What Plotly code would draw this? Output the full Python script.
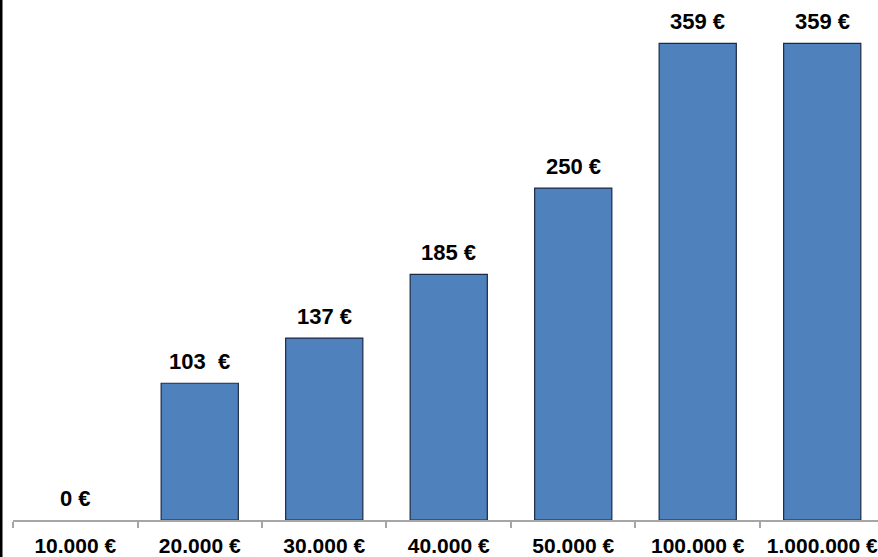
import plotly.graph_objects as go

categories = ["10.000 €", "20.000 €", "30.000 €", "40.000 €", "50.000 €", "100.000 €", "1.000.000 €"]
values = [0, 103, 137, 185, 250, 359, 359]
labels = ["0 €", "103  €", "137 €", "185 €", "250 €", "359 €", "359 €"]

fig = go.Figure()
fig.add_trace(go.Bar(
    x=categories, y=values, width=0.62,
    marker=dict(color="#4F81BD",
                line=dict(color="#1c2a45", width=[0 if v == 0 else 1.2 for v in values])),
    hoverinfo="skip",
))

for c, v, t in zip(categories, values, labels):
    fig.add_annotation(x=c, y=v, text="<b>%s</b>" % t, showarrow=False, yanchor="middle", yshift=22,
                       font=dict(family="Liberation Sans, Arial", size=22, color="#000000"))

fig.add_shape(type="line", xref="paper", yref="paper", x0=-12/865, x1=-12/865, y0=-37/520, y1=1,
              line=dict(color="#000000", width=3))

fig.update_layout(
    width=878, height=557,
    margin=dict(l=13, r=0, t=0, b=37),
    plot_bgcolor="white", paper_bgcolor="white",
    showlegend=False,
    font=dict(family="Liberation Sans, Arial", size=21, color="#000000"),
    xaxis=dict(
        type="category", range=[-0.5, 6.448], tickson="boundaries",
        showline=True, linecolor="#a6a6a6", linewidth=1.5,
        ticks="outside", ticklen=6, tickcolor="#a6a6a6", tickwidth=1.5,
        tickfont=dict(family="Liberation Sans, Arial", size=21, color="#000000"),
        ticklabelstandoff=6,
        tickvals=categories, ticktext=["<b>%s</b>" % c for c in categories],
        showgrid=False, zeroline=False,
    ),
    yaxis=dict(range=[0, 391.6], visible=False, showgrid=False, zeroline=False),
)

fig.write_html("out.html")
